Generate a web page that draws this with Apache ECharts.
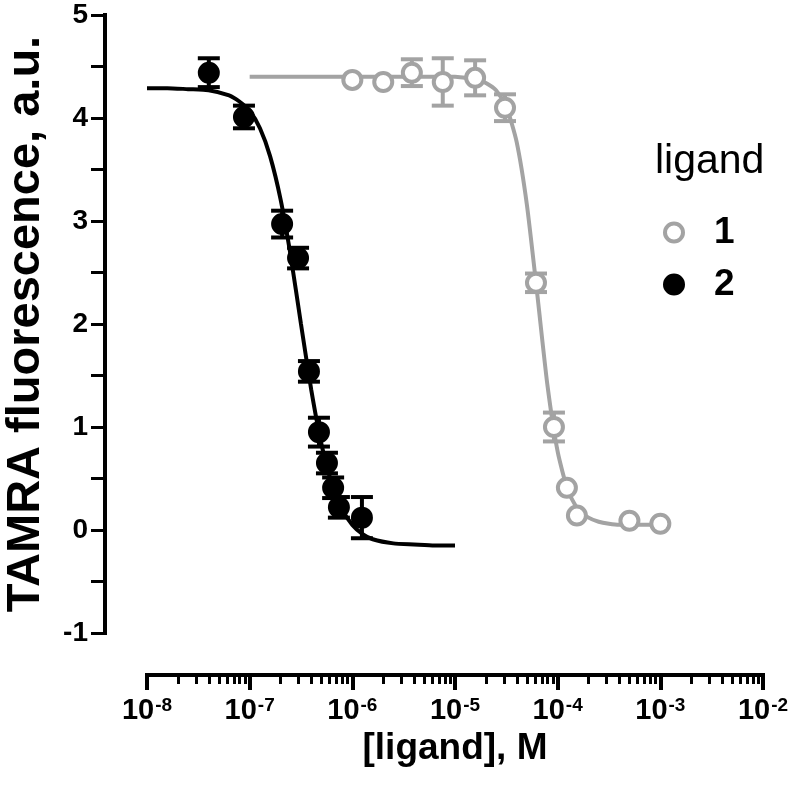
<!DOCTYPE html>
<html>
<head>
<meta charset="utf-8">
<script src="https://cdn.jsdelivr.net/npm/echarts@6/dist/echarts.min.js"></script>
<style>
html,body{margin:0;padding:0;background:#fff;}
#chart{width:790px;height:785px;}
</style>
</head>
<body>
<div id="chart"></div>
<script>
// ---- data ----
// ligand 1 (open grey circles): concentration (M), fluorescence, SEM
const lig1X   = [1e-6, 2e-6, 3.8e-6, 7.6e-6, 1.57e-5, 3.07e-5, 6.15e-5, 9.2e-5, 1.23e-4, 1.54e-4, 5e-4, 1e-3];
const lig1Y   = [4.37, 4.35, 4.44, 4.35, 4.39, 4.10, 2.40, 1.00, 0.41, 0.14, 0.09, 0.06];
const lig1Err = [0.00, 0.00, 0.13, 0.23, 0.17, 0.13, 0.09, 0.14, 0.00, 0.00, 0.00, 0.00];
// ligand 2 (filled black circles)
const lig2X   = [4.0e-8, 8.8e-8, 2.07e-7, 2.96e-7, 3.78e-7, 4.73e-7, 5.66e-7, 6.5e-7, 7.4e-7, 1.24e-6];
const lig2Y   = [4.44, 4.01, 2.97, 2.64, 1.54, 0.95, 0.65, 0.41, 0.22, 0.12];
const lig2Err = [0.14, 0.11, 0.13, 0.10, 0.10, 0.14, 0.10, 0.10, 0.10, 0.20];
// fitted curves
const fit1X = [1e-7, 3.16e-7, 1e-6, 3.16e-6, 1e-5, 1.26e-5, 1.58e-5, 2e-5, 2.51e-5, 3.16e-5, 3.98e-5, 5.01e-5, 6.31e-5, 7.94e-5, 1e-4, 1.26e-4, 1.58e-4, 2e-4, 2.51e-4, 3.16e-4, 3.98e-4, 6.31e-4, 1e-3];
const fit1Y = [4.40, 4.40, 4.40, 4.40, 4.40, 4.39, 4.38, 4.34, 4.27, 4.11, 3.77, 3.16, 2.30, 1.41, 0.76, 0.38, 0.20, 0.12, 0.08, 0.06, 0.05, 0.05, 0.05];
const fit2X = [1e-8, 1.58e-8, 2.51e-8, 3.98e-8, 6.31e-8, 7.94e-8, 1e-7, 1.26e-7, 1.58e-7, 2e-7, 2.51e-7, 3.16e-7, 3.98e-7, 5.01e-7, 6.31e-7, 7.94e-7, 1e-6, 1.26e-6, 1.58e-6, 2.51e-6, 3.98e-6, 6.31e-6, 1e-5];
const fit2Y = [4.29, 4.29, 4.28, 4.27, 4.22, 4.16, 4.07, 3.90, 3.63, 3.21, 2.66, 2.00, 1.36, 0.83, 0.45, 0.20, 0.05, -0.04, -0.09, -0.13, -0.14, -0.15, -0.15];
// axis ticks
const xMajorTicks = [1e-8, 1e-7, 1e-6, 1e-5, 1e-4, 1e-3, 1e-2];
const xMinorMult = [2, 3, 4, 5, 6, 7, 8, 9];
const yMin = -1, yMax = 5, yInterval = 1;
const seriesNames = ['1', '2'];

const GREY = '#a3a3a3';
const FONT = '"Liberation Sans", Arial, Helvetica, sans-serif';

const xMinorTicks = [];
for (let i = 0; i < xMajorTicks.length - 1; i++) {
  xMinorMult.forEach(m => xMinorTicks.push(m * xMajorTicks[i]));
}

const zip = (a, b) => a.map((v, i) => [v, b[i]]);
const zip3 = (a, b, c) => a.map((v, i) => [v, b[i], c[i]]);

function errRender(color) {
  return function (params, api) {
    const x = api.value(0), y = api.value(1), e = api.value(2);
    if (!e) return null;
    const hi = api.coord([x, y + e]);
    const lo = api.coord([x, y - e]);
    const w = 11;
    const st = { stroke: color, lineWidth: 4 };
    return {
      type: 'group',
      children: [
        { type: 'line', shape: { x1: hi[0], y1: hi[1], x2: lo[0], y2: lo[1] }, style: st },
        { type: 'line', shape: { x1: hi[0] - w, y1: hi[1], x2: hi[0] + w, y2: hi[1] }, style: st },
        { type: 'line', shape: { x1: lo[0] - w, y1: lo[1], x2: lo[0] + w, y2: lo[1] }, style: st }
      ]
    };
  };
}

const chart = echarts.init(document.getElementById('chart'), null, { renderer: 'canvas' });
chart.setOption({
  animation: false,
  backgroundColor: '#fff',
  textStyle: { fontFamily: FONT },
  title: {
    text: 'ligand', left: 655, top: 141, padding: 0,
    textStyle: { fontFamily: FONT, fontSize: 41, fontWeight: 'normal', color: '#000' }
  },
  legend: {
    orient: 'vertical', left: 663, top: 214, padding: 0,
    itemWidth: 18, itemHeight: 18, itemGap: 15,
    selectedMode: false,
    data: [
      { name: seriesNames[0], icon: 'circle', itemStyle: { color: '#fff', borderColor: GREY, borderWidth: 4 } },
      { name: seriesNames[1], icon: 'circle', itemStyle: { color: '#000', borderColor: '#000', borderWidth: 4 } }
    ],
    textStyle: { fontFamily: FONT, fontSize: 37, fontWeight: 'bold', color: '#000', lineHeight: 36, padding: [0, 0, 0, 26] }
  },
  grid: { left: 147, right: 27, top: 15, bottom: 152, containLabel: false, outerBoundsMode: 'none' },
  xAxis: [{
    type: 'log', logBase: 10, min: 1e-8, max: 1e-2, offset: 42,
    name: '[ligand], M', nameLocation: 'middle', nameGap: 54,
    nameTextStyle: { fontFamily: FONT, fontSize: 37, fontWeight: 'bold', color: '#000' },
    axisLine: { show: true, onZero: false, lineStyle: { color: '#000', width: 4, cap: 'square' } },
    axisTick: { show: true, length: 15, lineStyle: { color: '#000', width: 4 }, customValues: xMajorTicks },
    minorTick: { show: false },
    splitLine: { show: false },
    axisLabel: {
      show: true, margin: 21, customValues: xMajorTicks,
      formatter: v => '{b|10}{s|' + Math.round(Math.log10(v)) + '}',
      rich: {
        b: { fontFamily: FONT, fontSize: 29, fontWeight: 'bold', color: '#000' },
        s: { fontFamily: FONT, fontSize: 19, fontWeight: 'bold', color: '#000', verticalAlign: 'top', padding: [0, 0, 11, 1] }
      }
    }
  }, {
    type: 'log', logBase: 10, min: 1e-8, max: 1e-2, offset: 42, position: 'bottom',
    axisLine: { show: false, onZero: false },
    axisTick: { show: true, length: 9, lineStyle: { color: '#000', width: 3 }, customValues: xMinorTicks },
    axisLabel: { show: false },
    splitLine: { show: false }
  }],
  yAxis: {
    type: 'value', min: yMin, max: yMax, interval: yInterval, offset: 42,
    name: 'TAMRA fluorescence, a.u.', nameLocation: 'middle', nameGap: 55, nameRotate: 90,
    nameTextStyle: { fontFamily: FONT, fontSize: 47, fontWeight: 'bold', color: '#000' },
    axisLine: { show: true, onZero: false, lineStyle: { color: '#000', width: 4, cap: 'square' } },
    axisTick: { show: true, length: 14, lineStyle: { color: '#000', width: 3 } },
    minorTick: { show: true, splitNumber: 2, length: 14, lineStyle: { color: '#000', width: 3 } },
    splitLine: { show: false },
    minorSplitLine: { show: false },
    axisLabel: { margin: 17, fontFamily: FONT, fontSize: 28, fontWeight: 'bold', color: '#000' }
  },
  series: [
    {
      name: 'fit1', type: 'line', xAxisIndex: 0, data: zip(fit1X, fit1Y), showSymbol: false, smooth: 0.2,
      lineStyle: { color: GREY, width: 4 }, z: 2, silent: true
    },
    {
      name: 'fit2', type: 'line', xAxisIndex: 0, data: zip(fit2X, fit2Y), showSymbol: false, smooth: 0.2,
      lineStyle: { color: '#000', width: 4 }, z: 2, silent: true
    },
    {
      name: 'err1', type: 'custom', xAxisIndex: 0, data: zip3(lig1X, lig1Y, lig1Err),
      encode: { x: 0, y: 1 }, renderItem: errRender(GREY), z: 3, silent: true
    },
    {
      name: 'err2', type: 'custom', xAxisIndex: 0, data: zip3(lig2X, lig2Y, lig2Err),
      encode: { x: 0, y: 1 }, renderItem: errRender('#000'), z: 3, silent: true
    },
    {
      name: seriesNames[0], type: 'scatter', xAxisIndex: 0, data: zip(lig1X, lig1Y), symbol: 'circle', symbolSize: 18,
      itemStyle: { color: '#fff', borderColor: GREY, borderWidth: 4, opacity: 1 }, z: 4
    },
    {
      name: seriesNames[1], type: 'scatter', xAxisIndex: 0, data: zip(lig2X, lig2Y), symbol: 'circle', symbolSize: 18,
      itemStyle: { color: '#000', borderColor: '#000', borderWidth: 4, opacity: 1 }, z: 4
    }
  ]
});
</script>
</body>
</html>
